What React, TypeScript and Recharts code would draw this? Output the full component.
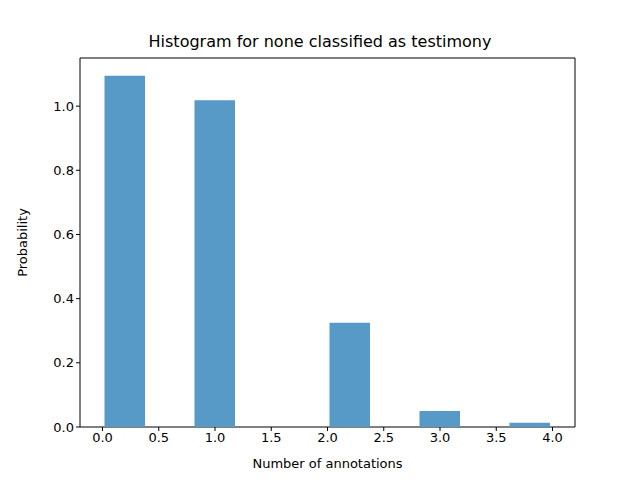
import { ComposedChart, Bar, XAxis, YAxis, ReferenceArea } from "recharts";

const binStarts = [0.0, 0.4, 0.8, 1.2, 1.6, 2.0, 2.4, 2.8, 3.2, 3.6];
const probabilities = [1.095, 0, 1.018, 0, 0, 0.325, 0, 0.05, 0, 0.013];
const xTicks = [0, 0.5, 1, 1.5, 2, 2.5, 3, 3.5, 4];
const yTicks = [0, 0.2, 0.4, 0.6, 0.8, 1.0];

const binWidth = 0.4;
const data = binStarts.map((s, i) => ({ x: s + binWidth / 2, p: probabilities[i] }));

const font = "DejaVu Sans, sans-serif";

export default function App() {
  return (
    <div style={{ position: "absolute", top: 0, left: 0, width: 640, height: 480, background: "#fff", fontFamily: font }}>
      <div style={{ position: "absolute", top: 32, width: 640, textAlign: "center", fontSize: 16 }}>
        Histogram for none classified as testimony
      </div>
      <ComposedChart width={640} height={480} data={data} margin={{ top: 58, right: 65, left: 0, bottom: 0 }}>
        <XAxis
          dataKey="x"
          type="number"
          domain={[-0.2, 4.2]}
          ticks={xTicks}
          tickFormatter={(v) => v.toFixed(1)}
          height={53}
          axisLine={false}
          tickLine={{ stroke: "#000" }}
          tickSize={4}
          tick={{ fill: "#000", fontSize: 13, fontFamily: font }}
          label={{ value: "Number of annotations", position: "insideBottom", offset: 12, fill: "#000", fontSize: 13, fontFamily: font }}
        />
        <YAxis
          type="number"
          domain={[0, 1.15]}
          ticks={yTicks}
          tickFormatter={(v) => v.toFixed(1)}
          width={80}
          axisLine={false}
          tickLine={{ stroke: "#000" }}
          tickSize={4}
          tick={{ fill: "#000", fontSize: 13, fontFamily: font }}
          label={{ value: "Probability", angle: -90, position: "insideLeft", offset: 22, fill: "#000", fontSize: 13, fontFamily: font, style: { textAnchor: "middle" } }}
        />
        <Bar dataKey="p" fill="#5799c7" barSize={45} isAnimationActive={false} />
        <ReferenceArea x1={-0.2} x2={4.2} y1={0} y2={1.15} fill="none" stroke="#000" strokeWidth={1} ifOverflow="visible" />
      </ComposedChart>
    </div>
  );
}
